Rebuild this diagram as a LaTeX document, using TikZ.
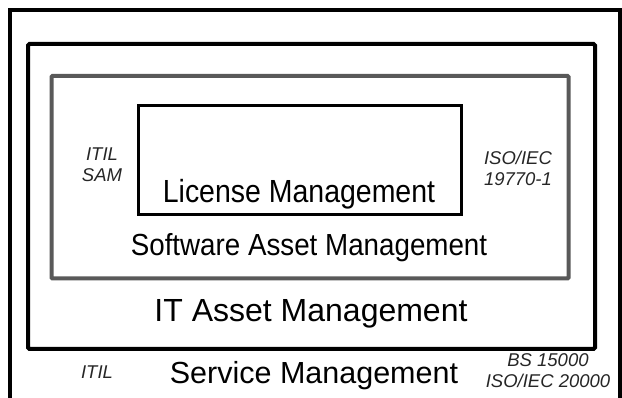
\documentclass[tikz,border=0pt]{standalone}
\usepackage{fontspec}
\usepackage{graphicx}
\setmainfont{Liberation Sans}
\begin{document}
\begin{tikzpicture}[x=1pt,y=-1pt,
  frame/.style={draw=black,line width=4pt},
  itbox/.style={draw=black,line width=4pt,rounded corners=1.5pt},
  sambox/.style={draw=black!65,line width=4pt,rounded corners=1pt},
  licbox/.style={draw=black,line width=3pt},
  big/.style={inner sep=0pt,anchor=base,text=black},
  small/.style={inner sep=0pt,anchor=base,align=center,text=black!85,
    font=\fontsize{18.5}{21.5}\selectfont\itshape}]
\useasboundingbox (0,0) rectangle (622,398);
\begin{scope}
\clip (0,0) rectangle (622,398);
\draw[frame] (10,10.5) rectangle (620,420);
\end{scope}
\coordinate (itnw) at (28,44);
\coordinate (itse) at (595,349);
\draw[itbox] (itnw) rectangle (itse);
\coordinate (samnw) at (51.5,76);
\coordinate (samse) at (568.5,278.5);
\draw[sambox] (samnw) rectangle (samse);
\coordinate (licnw) at (138.5,105.5);
\coordinate (licse) at (461,214.5);
\draw[licbox] (licnw) rectangle (licse);
\node[big,font=\fontsize{32}{38}\selectfont] (lic) at (299,203) {\scalebox{0.89}[1]{License Management}};
\node[big,font=\fontsize{30.5}{36}\selectfont] (sam) at (309,256) {\scalebox{0.91}[1]{Software Asset Management}};
\node[big,font=\fontsize{32}{38}\selectfont] (ita) at (311,322) {IT Asset Management};
\node[big,font=\fontsize{30.5}{36}\selectfont] (svc) at (314,384) {Service Management};
\node[small] (itilsam) at (102,182) {ITIL\\SAM};
\node[small] (iso19770) at (518,186) {ISO/IEC\\19770-1};
\node[small] (itil) at (97,379) {ITIL};
\node[small] (bsiso) at (548,388) {BS 15000\\ISO/IEC 20000};
\end{tikzpicture}
\end{document}
